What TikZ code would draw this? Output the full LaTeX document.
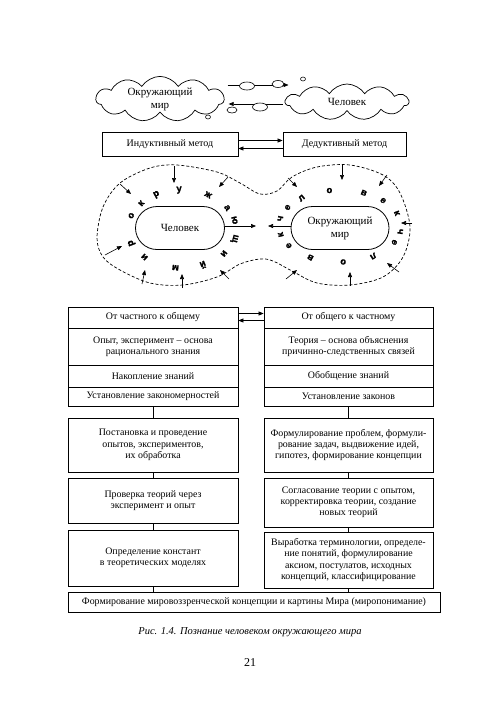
\documentclass[tikz,border=0pt]{standalone}
\usepackage{fontspec}
\setmainfont{Liberation Serif}
\newfontfamily\ringfont[BoldFeatures={FakeBold=1.5}]{Liberation Sans}
\usetikzlibrary{shapes.symbols,shapes.misc,arrows.meta,calc}
\begin{document}
\begin{tikzpicture}[x=1pt,y=-1pt,
  arr/.style={-{Triangle[length=5pt,width=4pt]}, line width=0.6pt},
  ln/.style={line width=0.8pt},
  box/.style={draw, line width=0.8pt, align=center, inner sep=1pt,
              font=\fontsize{9.9}{11.2}\selectfont},
  cloudnode/.style={cloud, cloud puffs=11, cloud puff arc=115, cloud ignores aspect,
              draw, line width=0.7pt, font=\fontsize{11}{13}\selectfont, align=center, inner sep=0pt},
  rbox/.style={draw, rounded rectangle, line width=0.8pt, align=center,
              font=\fontsize{11}{13}\selectfont, inner sep=1pt},
  ring/.style={font=\ringfont\bfseries\fontsize{9.5}{9.5}\selectfont, inner sep=0pt},
  bubble/.style={line width=0.6pt, fill=white}
  ]
\useasboundingbox (0,0) rectangle (500,710);
\fill[white] (0,0) rectangle (500,710);

% ---- clouds ----
\node[cloudnode, minimum width=128pt, minimum height=38pt] (cL) at (160,99) {Окружающий\\мир};
\node[cloudnode, minimum width=123pt, minimum height=36pt] (cR) at (347,102) {Человек};
\draw[arr] ([yshift=14pt,xshift=3pt]cL.east) -- ([yshift=14pt,xshift=4pt]cL.east -| cR.west);
\draw[arr] ([yshift=-2pt,xshift=-2pt]cR.west) -- ([yshift=-2pt,xshift=4pt]cR.west -| cL.east);
\draw[bubble] (247,86) ellipse [x radius=7.5, y radius=4];
\draw[bubble] (278,84) ellipse [x radius=6, y radius=3.5];
\draw[bubble] (303,79) ellipse [x radius=2.5, y radius=2];
\draw[bubble] (260,107) ellipse [x radius=7.5, y radius=4];
\draw[bubble] (232,110) ellipse [x radius=5, y radius=3];
\draw[bubble] (208,117) ellipse [x radius=2.5, y radius=2];

% ---- methods ----
\node[box, minimum width=136pt, minimum height=24pt, font=\fontsize{10}{12}\selectfont] (mI) at (170,144.5) {Индуктивный метод};
\node[box, minimum width=123pt, minimum height=24pt, font=\fontsize{10}{12}\selectfont] (mD) at (344.5,144.5) {Дедуктивный метод};
\draw[arr] ([yshift=4pt]mI.east) -- ([yshift=4pt]mI.east -| mD.west);
\draw[arr] ([yshift=-4pt]mD.west) -- ([yshift=-4pt]mD.west -| mI.east);

% ---- dashed peanut ----
\draw[dashed, line width=0.7pt, dash pattern=on 3pt off 2pt]
  plot[smooth cycle, tension=0.55] coordinates {
  (97,238) (103,207) (120,183) (150,168) (177,165) (217,172) (240,183) (260,194)
  (277,191) (292,177) (317,167) (350,165) (383,175) (400,193) (410,227) (403,257)
  (383,277) (350,285) (317,283) (292,271) (273,261) (260,259) (240,264) (217,277)
  (183,285) (150,283) (120,270) (103,257)};

\node[rbox, minimum width=91pt, minimum height=43pt] (hL) at (180,228) {Человек};
\node[rbox, minimum width=100pt, minimum height=43pt] (hR) at (340,228) {Окружающий\\мир};
\coordinate (tL) at (256,226);
\coordinate (tR) at (268,226);
\draw[arr] (hL.east |- tL) -- (tL);
\draw[arr] (hR.west |- tR) -- (tR);

% inward arrows
\foreach \sx/\sy/\ex/\ey in {174/166/174/183, 228/177/219/187, 120/184/131/194, 105/255/122/246,
  142/284/145/270, 182/288/182/274, 229/279/220/270,
  342/165/342/180, 387/175/379/186, 288/178/297/187, 412/223/401/223,
  399/272/387/263, 350/286/350/272, 286/279/297/270}
  \draw[arr] (\sx,\sy) -- (\ex,\ey);

% ring letters
\foreach \a/\l in {160/о,139/к,118/р,93/у,61/ж,33/а,13/ю,-14/щ,-39/и,-67/й,-97/м,-134/и,-159/р}
  \node[ring, rotate=\a-90] at ($(182,229)+({54*cos(\a)},{-39*sin(\a)})$) {\l};
\foreach \a/\l in {168/ч,149/е,129/л,100/о,67/в,45/е,21/к,-9/ч,-27/е,-57/л,-87/о,-119/в,-147/е,-166/к}
  \node[ring, rotate=\a-90] at ($(340,226)+({61*cos(\a)},{-36*sin(\a)})$) {\l};

% ---- flowchart ----
\node[box, minimum width=170pt, minimum height=21pt] (L1) at (153,317.5) {От частного к общему};
\node[box, minimum width=170pt, minimum height=37pt] (L2) at (153,346.5) {Опыт, эксперимент – основа\\рационального знания};
\node[box, minimum width=170pt, minimum height=22pt] (L3) at (153,376) {Накопление знаний};
\node[box, minimum width=170pt, minimum height=19pt] (L4) at (153,396.5) {Установление закономерностей};

\node[box, minimum width=169pt, minimum height=21pt] (R1) at (348.5,317.5) {От общего к частному};
\node[box, minimum width=169pt, minimum height=37pt] (R2) at (348.5,346.5) {Теория – основа объяснения\\причинно-следственных связей};
\node[box, minimum width=169pt, minimum height=22pt] (R3) at (348.5,376) {Обобщение знаний};
\node[box, minimum width=169pt, minimum height=19pt] (R4) at (348.5,396.5) {Установление законов};

\draw[arr] ([yshift=4pt]L1.east) -- ([yshift=4pt]L1.east -| R1.west);
\draw[arr] ([yshift=-3pt]R1.west) -- ([yshift=-3pt]R1.west -| L1.east);

\node[box, minimum width=170pt, minimum height=54pt] (B1) at (153,445) {Постановка и проведение\\опытов, экспериментов,\\их обработка};
\node[box, minimum width=170pt, minimum height=45pt] (B2) at (153,500.5) {Проверка теорий через\\эксперимент и опыт};
\node[box, minimum width=170pt, minimum height=56pt] (B3) at (153,558) {Определение констант\\в теоретических моделях};

\node[box, minimum width=169pt, minimum height=54pt] (S1) at (348.5,445) {Формулирование проблем, формули-\\рование задач, выдвижение идей,\\гипотез, формирование концепции};
\node[box, minimum width=169pt, minimum height=49pt] (S2) at (348.5,502.5) {Согласование теории с опытом,\\корректировка теории, создание\\новых теорий};
\node[box, minimum width=169pt, minimum height=56pt] (S3) at (348.5,560) {Выработка терминологии, определе-\\ние понятий, формулирование\\аксиом, постулатов, исходных\\концепций, классифицирование};

\node[box, minimum width=372pt, minimum height=20pt, font=\fontsize{9.9}{12}\selectfont] (F) at (254,602) {Формирование мировоззренческой концепции и картины Мира (миропонимание)};

\draw[ln] (L4.south) -- (B1.north);
\draw[ln] (B1.south) -- (B2.north);
\draw[ln] (B2.south) -- (B3.north);
\draw[ln] (B3.south) -- (B3.south |- F.north);
\draw[ln] (R4.south) -- (S1.north);
\draw[ln] (S1.south) -- (S2.north);
\draw[ln] (S2.south) -- (S3.north);
\draw[ln] (S3.south) -- (S3.south |- F.north);

\node[font=\itshape\fontsize{10.5}{12}\selectfont] (cap) at (250,632) {Рис. 1.4. Познание человеком окружающего мира};
\node[font=\fontsize{12}{14}\selectfont] (pg) at (250,663) {21};
\end{tikzpicture}
\end{document}
